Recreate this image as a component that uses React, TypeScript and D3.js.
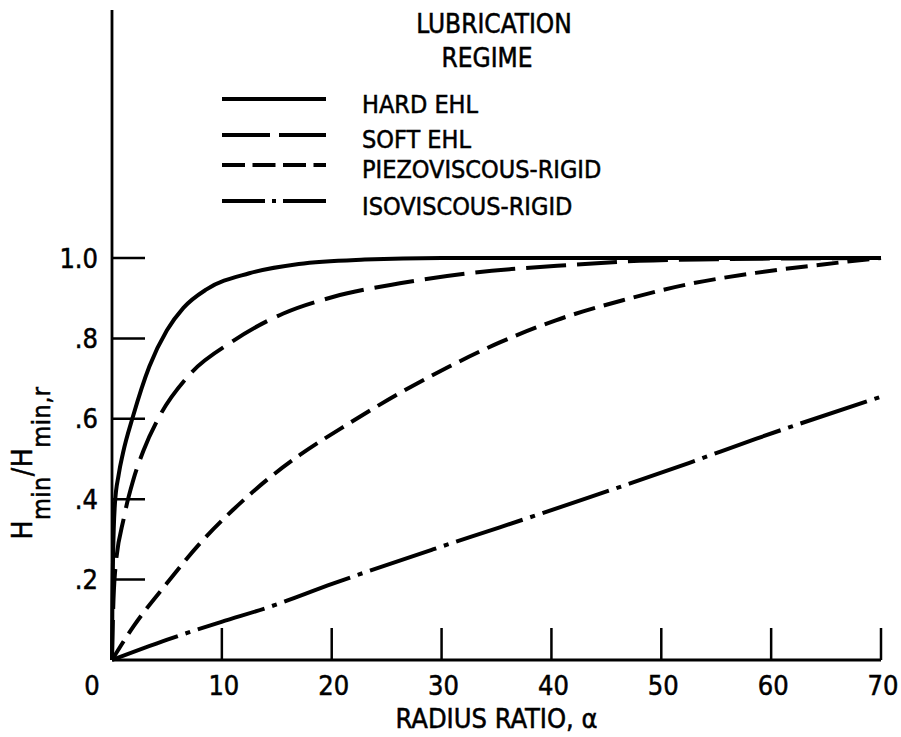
import React from "react";
import * as d3 from "d3";

// ---------- data ----------
const xTicks = [10, 20, 30, 40, 50, 60, 70];
const xTickLabels = ["0", "10", "20", "30", "40", "50", "60", "70"];
const xLabelValues = [0, 10, 20, 30, 40, 50, 60, 70];
const yTicks = [0.2, 0.4, 0.6, 0.8, 1.0];
const yTickLabels = [".2", ".4", ".6", ".8", "1.0"];

const hardAlpha = [0, 0.03, 0.1, 0.27, 0.6, 1.0, 1.9, 3.4, 5.0, 6.5, 8.6, 12.5, 17, 23, 30, 40, 55, 70];
const hardRatio = [0, 0.12, 0.26, 0.39, 0.46, 0.515, 0.605, 0.73, 0.82, 0.876, 0.922, 0.962, 0.985, 0.996, 1, 1, 1, 1];

const softAlpha = [0, 0.1, 0.27, 1.1, 1.94, 2.85, 4.3, 6.9, 11.0, 15.6, 20.1, 26.2, 32.2, 41.9, 48, 55, 62, 70];
const softRatio = [0, 0.12, 0.216, 0.356, 0.448, 0.52, 0.605, 0.705, 0.793, 0.862, 0.903, 0.937, 0.961, 0.983, 0.993, 0.997, 0.999, 1.0];

const piezoAlpha = [0, 1.94, 4.97, 8.0, 11.0, 14.1, 17.1, 21.6, 26.2, 30.7, 35.3, 40.4, 46.5, 52.5, 58.6, 64.7, 70];
const piezoRatio = [0, 0.083, 0.19, 0.29, 0.373, 0.448, 0.51, 0.589, 0.664, 0.73, 0.79, 0.845, 0.895, 0.935, 0.963, 0.984, 1.0];

const isoAlpha = [0, 4.97, 9.97, 14.1, 20.1, 29.2, 35.3, 43.5, 52.5, 58.6, 70];
const isoRatio = [0, 0.05, 0.095, 0.13, 0.19, 0.275, 0.33, 0.405, 0.49, 0.55, 0.655];

const seriesNames = ["HARD EHL", "SOFT EHL", "PIEZOVISCOUS-RIGID", "ISOVISCOUS-RIGID"];

// ---------- layout ----------
const W = 901;
const H = 737;
const FONT = "'DejaVu Sans Condensed', 'DejaVu Sans', sans-serif";

const x = d3.scaleLinear().domain([0, 70]).range([112, 881]);
const y = d3.scaleLinear().domain([0, 1]).range([660, 258]);

const curveDash = ["", "40 11", "22 9", "70 8 5 8"];
const legendDash = ["", "48 9", "23 7.5", "43 7 4 7 43"];
const legendLineY = [99, 135, 165, 201];
const legendTextY = [113, 148, 178, 215];

const zip = (a: number[], b: number[]) => a.map((v, i) => [v, b[i]] as [number, number]);
const series = [
  zip(hardAlpha, hardRatio),
  zip(softAlpha, softRatio),
  zip(piezoAlpha, piezoRatio),
  zip(isoAlpha, isoRatio),
];

const line = d3
  .line<[number, number]>()
  .x((d) => x(d[0]))
  .y((d) => y(d[1]))
  .curve(d3.curveMonotoneX);

export default function App() {
  const textStyle = { fontFamily: FONT, fontStretch: "condensed" as const };
  const heavy = { stroke: "#000", strokeWidth: 0.5 };
  return (
    <svg
      width={W}
      height={H}
      viewBox={`0 0 ${W} ${H}`}
      style={{ position: "absolute", left: 0, top: 0, background: "#fff" }}
    >
      <rect x={0} y={0} width={W} height={H} fill="#fff" />
      {/* axes */}
      <line x1={x(0)} x2={x(0)} y1={10} y2={y(0)} stroke="#000" strokeWidth={2.8} />
      <line x1={x(0)} x2={x(70)} y1={y(0)} y2={y(0)} stroke="#000" strokeWidth={2.8} />
      {yTicks.map((t) => (
        <line key={"yt" + t} x1={x(0)} x2={x(0) + 33} y1={y(t)} y2={y(t)} stroke="#000" strokeWidth={2.5} />
      ))}
      {xTicks.map((t) => (
        <line key={"xt" + t} x1={x(t)} x2={x(t)} y1={y(0)} y2={y(0) - 32} stroke="#000" strokeWidth={2.5} />
      ))}

      {/* tick labels */}
      <g style={textStyle} fontSize={27} fill="#000" {...heavy}>
        {yTicks.map((t, i) => (
          <text key={"yl" + t} x={x(0) - 14} y={y(t) + 9.5} textAnchor="end">
            {yTickLabels[i]}
          </text>
        ))}
        {xLabelValues.map((t, i) => (
          <text key={"xl" + t} x={x(t) + (t === 0 ? -20 : 2)} y={695} textAnchor="middle">
            {xTickLabels[i]}
          </text>
        ))}
        <text x={x(35)} y={728} textAnchor="middle">
          RADIUS RATIO, α
        </text>
      </g>

      {/* y axis title */}
      <g transform={`translate(32,463) rotate(-90)`} style={textStyle} fill="#000" {...heavy}>
        <text textAnchor="middle" fontSize={28} letterSpacing={0.5}>
          H
          <tspan fontSize={25} dy={18}>min</tspan>
          <tspan dy={-18}>/H</tspan>
          <tspan fontSize={25} dy={18}>min,r</tspan>
        </text>
      </g>

      {/* curves */}
      {series.map((s, i) => (
        <path
          key={"c" + i}
          d={line(s) || ""}
          fill="none"
          stroke="#000"
          strokeWidth={4}
          strokeDasharray={curveDash[i] || undefined}
          strokeLinejoin="round"
        />
      ))}

      {/* legend */}
      <g style={textStyle} fill="#000">
        <text x={494} y={33} textAnchor="middle" fontSize={26} {...heavy}>
          LUBRICATION
        </text>
        <text x={487} y={67} textAnchor="middle" fontSize={26} {...heavy}>
          REGIME
        </text>
        {seriesNames.map((n, i) => (
          <g key={"lg" + i}>
            <line
              x1={222}
              x2={326}
              y1={legendLineY[i]}
              y2={legendLineY[i]}
              stroke="#000"
              strokeWidth={4}
              strokeDasharray={legendDash[i] || undefined}
            />
            <text x={362} y={legendTextY[i]} fontSize={25} {...heavy}>
              {n}
            </text>
          </g>
        ))}
      </g>
    </svg>
  );
}
